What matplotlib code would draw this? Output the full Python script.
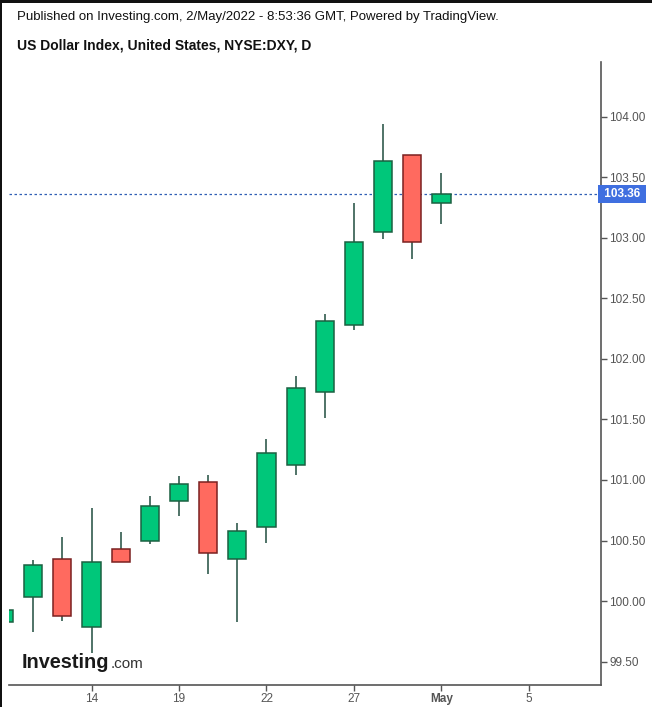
import matplotlib
matplotlib.use("Agg")
import matplotlib.pyplot as plt
from matplotlib.patches import Rectangle
import numpy as np

plt.rcParams['font.family'] = ['Liberation Sans', 'DejaVu Sans']

# Daily candles, 11 Apr 2022 - 2 May 2022 (trading days)
dates = ["Apr 11", "Apr 12", "Apr 13", "Apr 14", "Apr 15", "Apr 18", "Apr 19", "Apr 20",
         "Apr 21", "Apr 22", "Apr 25", "Apr 26", "Apr 27", "Apr 28", "Apr 29", "May 2"]
opens = [99.83, 100.03, 100.345, 99.79, 100.43, 100.50, 100.83, 100.98,
         100.35, 100.61, 101.12, 101.73, 102.28, 103.045, 103.68, 103.285]
highs = [100.00, 100.34, 100.527, 100.766, 100.571, 100.868, 101.033, 101.041,
         100.642, 101.339, 101.859, 102.371, 103.285, 103.94, 103.68, 103.535]
lows = [99.75, 99.747, 99.838, 99.574, 100.32, 100.469, 100.705, 100.226,
        99.825, 100.482, 101.041, 101.514, 102.236, 102.993, 102.827, 103.116]
closes = [99.93, 100.296, 99.874, 100.32, 100.32, 100.783, 100.964, 100.395,
          100.576, 101.22, 101.76, 102.31, 102.963, 103.632, 102.963, 103.36]

last_price = 103.36
xtick_pos = [3, 6, 9, 12, 15, 18]
xtick_labels = ["14", "19", "22", "27", "May", "5"]
ytick_vals = [99.5, 100.0, 100.5, 101.0, 101.5, 102.0, 102.5, 103.0, 103.5, 104.0]

green = "#00c77a"
green_edge = "#1b6141"
red = "#ff6a5f"
red_edge = "#7a2020"
wick_col = "#1f4d3e"
axis_col = "#555555"

fig = plt.figure(figsize=(6.52, 7.07), dpi=100)
ax = fig.add_axes([9 / 652, 22 / 707, 592 / 652, 623 / 707])

x = np.arange(len(dates))
o = np.array(opens)
c = np.array(closes)
up = c >= o
body_lo = np.minimum(o, c)
body_h = np.abs(c - o)

ax.vlines(x, lows, highs, color=wick_col, linewidth=1.1, zorder=2)
ax.bar(x[up], body_h[up], bottom=body_lo[up], width=0.62,
       color=green, edgecolor=green_edge, linewidth=1.1, zorder=3)
ax.bar(x[~up], body_h[~up], bottom=body_lo[~up], width=0.62,
       color=red, edgecolor=red_edge, linewidth=1.1, zorder=3)

# last price line
ax.axhline(last_price, color="#2f5fb5", linestyle=(0, (2, 2)), linewidth=0.9, zorder=1)

ax.set_xlim(0.171, 20.47)
ax.set_ylim(99.307, 104.452)

for s in ["left", "top"]:
    ax.spines[s].set_visible(False)
for s in ["right", "bottom"]:
    ax.spines[s].set_color(axis_col)
    ax.spines[s].set_linewidth(1.2)

ax.yaxis.tick_right()
ax.set_yticks(ytick_vals)
ax.set_yticklabels([f"{v:.2f}" for v in ytick_vals])
ax.set_xticks(xtick_pos)
ax.set_xticklabels(xtick_labels)
ax.tick_params(axis="both", colors=axis_col, labelcolor="#555555", labelsize=8.5,
               length=4, width=1, direction="out", pad=2)
for lbl in ax.get_xticklabels():
    if lbl.get_text() == "May":
        lbl.set_fontweight("bold")

# price label box
ax.text(1.0, last_price, " 103.36 ", transform=ax.get_yaxis_transform(),
        ha="left", va="center", fontsize=8.5, fontweight="bold", color="white",
        bbox=dict(boxstyle="square,pad=0.25", facecolor="#3f6fe0", edgecolor="none"),
        zorder=5, clip_on=False)

# header texts
fig.text(17 / 652, 1 - 20 / 707, "Published on Investing.com, 2/May/2022 - 8:53:36 GMT, Powered by TradingView.",
         fontsize=9.5, color="#111111", ha="left", va="baseline")
fig.text(17 / 652, 1 - 49 / 707, "US Dollar Index, United States, NYSE:DXY, D",
         fontsize=10, fontweight="bold", color="#111111", ha="left", va="baseline")

# watermark logo
fig.text(22 / 652, 1 - 668 / 707, "Investing", fontsize=14.3, fontweight="bold",
         color="#1a1a1a", ha="left", va="baseline")
fig.text(110.5 / 652, 1 - 668 / 707, ".com", fontsize=11, color="#333333",
         ha="left", va="baseline")

# screenshot frame on top and left edges
fig.patches.append(Rectangle((0, 1 - 3 / 707), 1, 3 / 707, transform=fig.transFigure,
                             facecolor="#111111", edgecolor="none"))
fig.patches.append(Rectangle((0, 0), 2 / 652, 1, transform=fig.transFigure,
                             facecolor="#111111", edgecolor="none"))

fig.savefig("out.png", dpi=100)
